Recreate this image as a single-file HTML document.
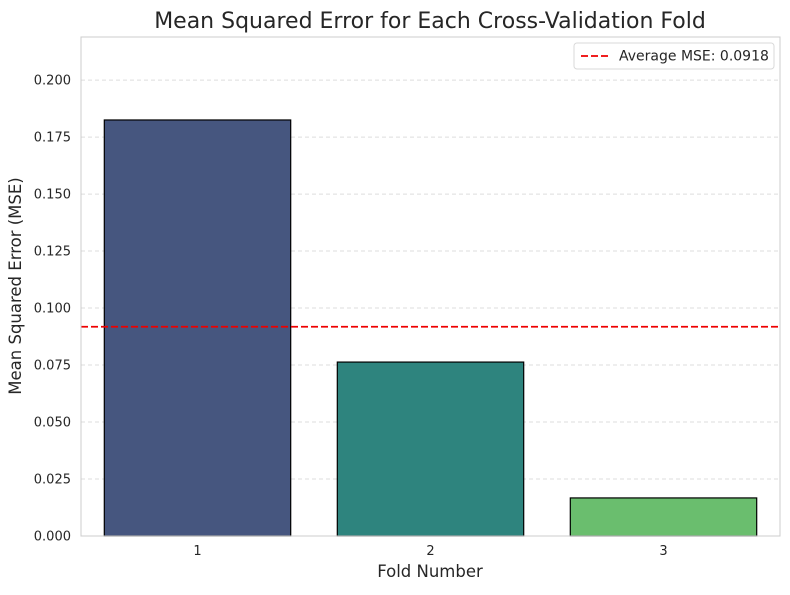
<!DOCTYPE html>
<html><head><meta charset="utf-8"><style>
body{margin:0;background:#fff;font-family:"Liberation Sans","DejaVu Sans",sans-serif;}
svg text{font-family:"DejaVu Sans","Liberation Sans",sans-serif;fill:#262626;}
</style></head><body>
<svg id="chart" width="790" height="590">
<text x="430" y="28" font-size="22" text-anchor="middle">Mean Squared Error for Each Cross-Validation Fold</text>
<g id="grid"></g>
<g id="bars"></g>
<g id="ticks"></g>
<rect x="81" y="37" width="699" height="499" fill="none" stroke="#cccccc"/>
<text x="430" y="577" font-size="16.5" text-anchor="middle">Fold Number</text>
<text transform="translate(21,286) rotate(-90)" font-size="16.5" text-anchor="middle">Mean Squared Error (MSE)</text>
<g>
<rect x="574" y="43" width="200" height="26" rx="3" fill="#fff" stroke="#d9d9d9"/>
<line x1="581" y1="56" x2="609" y2="56" stroke="#e00" stroke-width="1.8" stroke-dasharray="7,3"/>
<text x="619" y="60.5" font-size="14">Average MSE: 0.0918</text>
</g>
</svg>
<script>
const categories=["1","2","3"];
const mseValues=[0.1825,0.0763,0.0167];
const averageMse=[0.0918];
const yTicks=[0,0.025,0.05,0.075,0.1,0.125,0.15,0.175,0.2];
const colors=["#46567f","#2e847e","#6abe6e"];
const NS="http://www.w3.org/2000/svg";
const L=81,R=780,T=37,B=536,yMax=0.2189;
const y=v=>B-(v/yMax)*(B-T);
const band=(R-L)/categories.length;
const xc=i=>L+band*(i+0.5);
function mk(tag,attrs,parent){const e=document.createElementNS(NS,tag);for(const k in attrs)e.setAttribute(k,attrs[k]);parent.appendChild(e);return e;}
const grid=document.getElementById('grid'),ticks=document.getElementById('ticks'),bars=document.getElementById('bars');
yTicks.forEach(t=>{
 const g=mk('line',{x1:L,x2:R,y1:y(t),y2:y(t),stroke:'#dddddd','stroke-dasharray':'4,3'},grid);
 
 
 const tx=mk('text',{x:L-10,y:y(t)+4.5,'font-size':13,'text-anchor':'end'},ticks);
 tx.textContent=t.toFixed(3);
 
 
});
categories.forEach((c,i)=>{
 const w=band*0.8;
 const r=mk('rect',{x:xc(i)-w/2,y:y(mseValues[i]),width:w,height:B-y(mseValues[i]),fill:colors[i],stroke:'#000','stroke-width':1.2},bars);
 
 
 const tx=mk('text',{x:xc(i),y:B+19,'font-size':13,'text-anchor':'middle'},ticks);
 tx.textContent=c;
 
 
});
const av=mk('line',{x1:L,x2:R,y1:y(averageMse[0]),y2:y(averageMse[0]),stroke:'#e00','stroke-width':1.8,'stroke-dasharray':'7,3'},bars);


</script>
</body></html>
